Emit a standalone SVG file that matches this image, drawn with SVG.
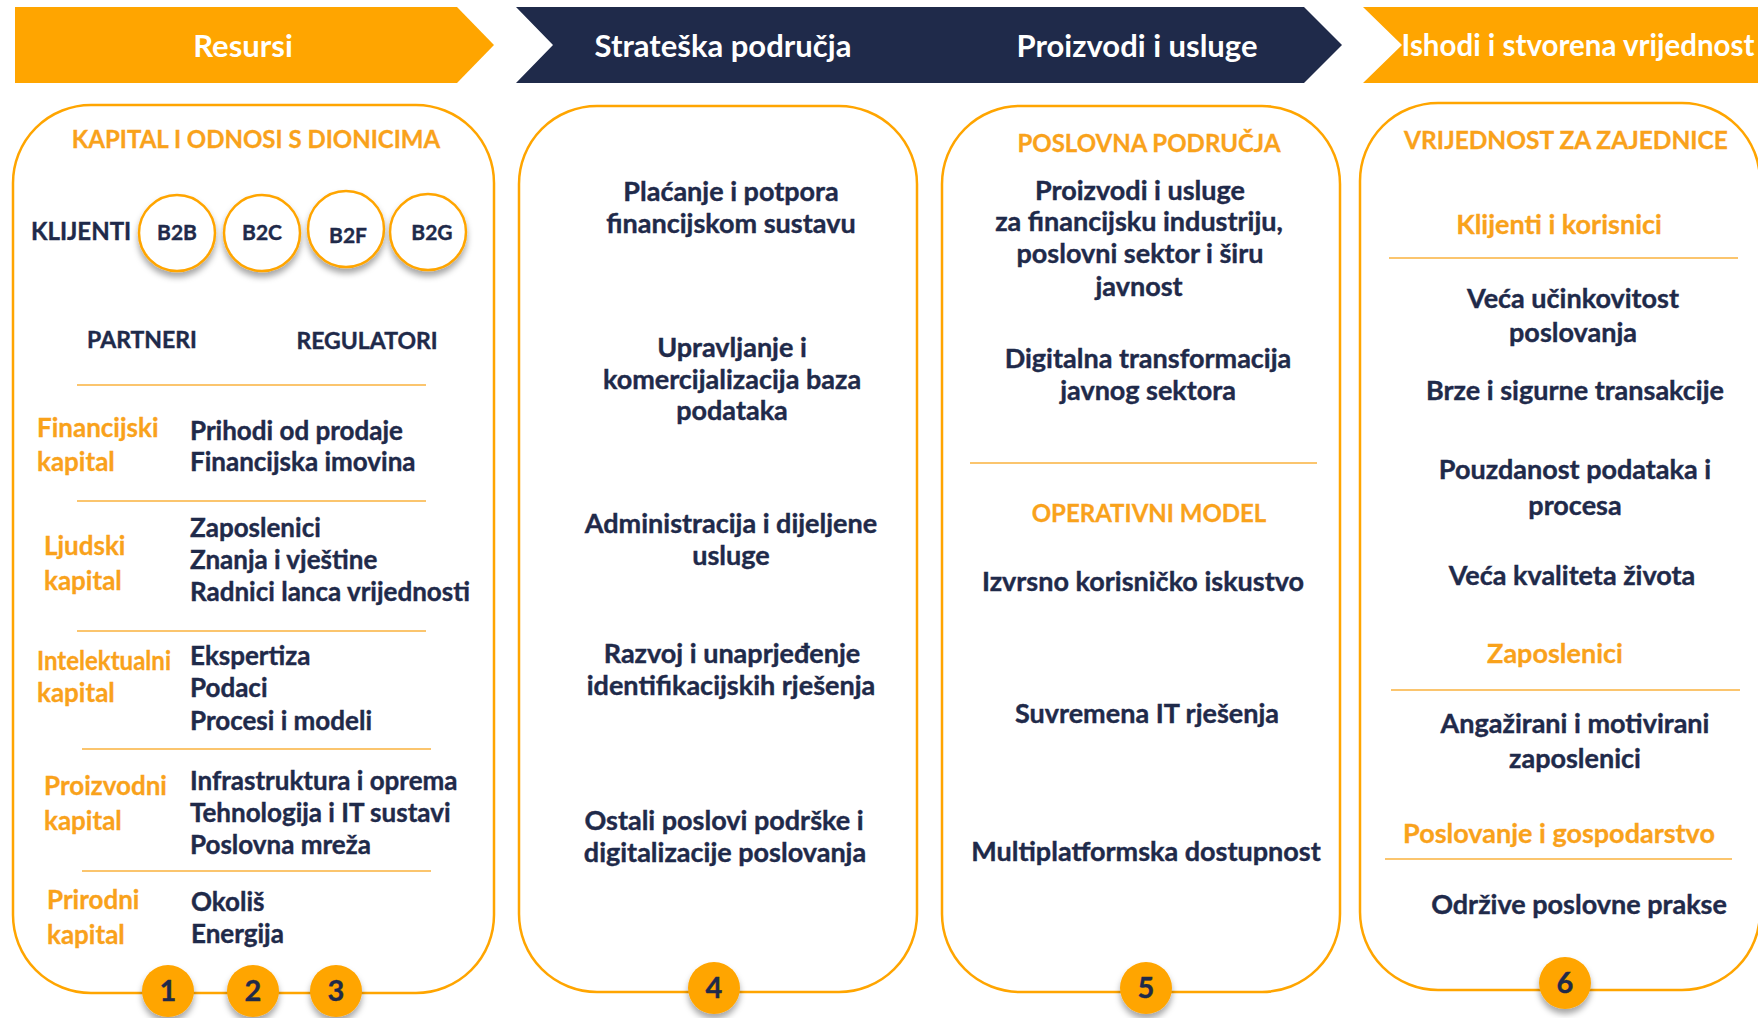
<svg xmlns="http://www.w3.org/2000/svg" width="1758" height="1018" viewBox="0 0 1758 1018">
<defs>
<style>
text{font-family:Lato,"Liberation Sans",sans-serif;font-weight:700}
.hd{fill:#fff;font-size:31px;text-anchor:middle}
.box{fill:#fff;stroke:#FFA500;stroke-width:2.5}
.sep{stroke:#FBC56E;stroke-width:2;fill:none}
.nv{fill:#1F2A4A;font-size:26px;stroke:#1F2A4A;stroke-width:0.4}
.nvc{fill:#1F2A4A;font-size:27px;text-anchor:middle;stroke:#1F2A4A;stroke-width:0.4}
.or{fill:#F9A21B;font-size:26px;stroke:#F9A21B;stroke-width:0.3}
.orh{fill:#F9A21B;font-size:24px;text-anchor:middle;stroke:#F9A21B;stroke-width:0.3}
.ors{fill:#F9A21B;font-size:27px;text-anchor:middle;stroke:#F9A21B;stroke-width:0.3}
.cap{fill:#1F2A4A;font-size:23px;text-anchor:middle;stroke:#1F2A4A;stroke-width:0.4}
.bc{fill:#fff;stroke:#FFA500;stroke-width:2.5}
.bt{fill:#1F2A4A;font-size:21px;text-anchor:middle;stroke:#1F2A4A;stroke-width:0.4}
.nc{fill:#FFA500}
.nt{fill:#1F2A4A;font-size:29px;text-anchor:middle;stroke:#1F2A4A;stroke-width:0.4}
</style>
<filter id="sh" x="-40%" y="-40%" width="180%" height="190%">
<feDropShadow dx="0" dy="5" stdDeviation="3" flood-color="#000" flood-opacity="0.35"/>
</filter>
</defs>
<rect width="1758" height="1018" fill="#fff"/>

<g id="headers">
<g id="h-resursi">
<polygon points="15,7 457,7 494,45 457,83 15,83" fill="#FFA500"/>
<text class="hd" x="243" y="57">Resursi</text>
</g>
<g id="h-strateska">
<polygon points="516,7 1304,7 1342,45 1304,83 516,83 553,45" fill="#1F2A4A"/>
<text class="hd" x="723" y="57">Strateška područja</text>
<text class="hd" x="1137" y="57">Proizvodi i usluge</text>
</g>
<g id="h-ishodi">
<polygon points="1363,7 1758,7 1758,83 1363,83 1402,45" fill="#FFA500"/>
<text class="hd" x="1578" y="56" style="font-size:29.5px">Ishodi i stvorena vrijednost</text>
</g>
</g>

<g id="box-resursi">
<rect class="box" x="13" y="105" width="481" height="888" rx="78" ry="78"/>
<text class="orh" x="256" y="148">KAPITAL I ODNOSI S DIONICIMA</text>
<text class="nv" x="31" y="240" style="font-size:24px">KLIJENTI</text>
<g id="b2b"><circle class="bc" cx="177" cy="233" r="38" filter="url(#sh)"/><text class="bt" x="177" y="240">B2B</text></g>
<g id="b2c"><circle class="bc" cx="262" cy="233" r="38" filter="url(#sh)"/><text class="bt" x="262" y="240">B2C</text></g>
<g id="b2f"><circle class="bc" cx="346" cy="229" r="38" filter="url(#sh)"/><text class="bt" x="348" y="243">B2F</text></g>
<g id="b2g"><circle class="bc" cx="428" cy="232" r="38" filter="url(#sh)"/><text class="bt" x="432" y="240">B2G</text></g>
<text class="cap" x="142" y="348">PARTNERI</text>
<text class="cap" x="367" y="349">REGULATORI</text>
<line class="sep" x1="77" y1="385" x2="426" y2="385"/>
<text class="or" x="37" y="437">Financijski</text>
<text class="or" x="37" y="471">kapital</text>
<text class="nv" x="190" y="440">Prihodi od prodaje</text>
<text class="nv" x="190" y="471">Financijska imovina</text>
<line class="sep" x1="77" y1="501" x2="426" y2="501"/>
<text class="or" x="44" y="555">Ljudski</text>
<text class="or" x="44" y="590">kapital</text>
<text class="nv" x="190" y="537">Zaposlenici</text>
<text class="nv" x="190" y="569">Znanja i vještine</text>
<text class="nv" x="190" y="601">Radnici lanca vrijednosti</text>
<line class="sep" x1="77" y1="631" x2="426" y2="631"/>
<text class="or" x="37" y="670" textLength="134" lengthAdjust="spacingAndGlyphs">Intelektualni</text>
<text class="or" x="37" y="702">kapital</text>
<text class="nv" x="190" y="665">Ekspertiza</text>
<text class="nv" x="190" y="697">Podaci</text>
<text class="nv" x="190" y="730">Procesi i modeli</text>
<line class="sep" x1="82" y1="749" x2="431" y2="749"/>
<text class="or" x="44" y="795">Proizvodni</text>
<text class="or" x="44" y="830">kapital</text>
<text class="nv" x="190" y="790">Infrastruktura i oprema</text>
<text class="nv" x="190" y="822">Tehnologija i IT sustavi</text>
<text class="nv" x="190" y="854">Poslovna mreža</text>
<line class="sep" x1="82" y1="871" x2="431" y2="871"/>
<text class="or" x="47" y="909">Prirodni</text>
<text class="or" x="47" y="944">kapital</text>
<text class="nv" x="191" y="911">Okoliš</text>
<text class="nv" x="191" y="943">Energija</text>
</g>

<g id="box-strateska">
<rect class="box" x="519" y="106" width="398" height="886" rx="78" ry="78"/>
<text class="nvc" x="731" y="201">Plaćanje i potpora</text>
<text class="nvc" x="731" y="233">financijskom sustavu</text>
<text class="nvc" x="732" y="357">Upravljanje i</text>
<text class="nvc" x="732" y="389">komercijalizacija baza</text>
<text class="nvc" x="732" y="420">podataka</text>
<text class="nvc" x="731" y="533">Administracija i dijeljene</text>
<text class="nvc" x="731" y="565">usluge</text>
<text class="nvc" x="732" y="663">Razvoj i unaprjeđenje</text>
<text class="nvc" x="731" y="695">identifikacijskih rješenja</text>
<text class="nvc" x="724" y="830">Ostali poslovi podrške i</text>
<text class="nvc" x="725" y="862">digitalizacije poslovanja</text>
</g>

<g id="box-proizvodi">
<rect class="box" x="942" y="106" width="398" height="886" rx="78" ry="78"/>
<text class="orh" x="1149" y="152">POSLOVNA PODRUČJA</text>
<text class="nvc" x="1140" y="200">Proizvodi i usluge</text>
<text class="nvc" x="1139" y="231">za financijsku industriju,</text>
<text class="nvc" x="1140" y="263">poslovni sektor i širu</text>
<text class="nvc" x="1139" y="296">javnost</text>
<text class="nvc" x="1148" y="368">Digitalna transformacija</text>
<text class="nvc" x="1148" y="400">javnog sektora</text>
<line class="sep" x1="970" y1="463" x2="1317" y2="463"/>
<text class="orh" x="1149" y="522">OPERATIVNI MODEL</text>
<text class="nvc" x="1143" y="591">Izvrsno korisničko iskustvo</text>
<text class="nvc" x="1147" y="723">Suvremena IT rješenja</text>
<text class="nvc" x="1146" y="861">Multiplatformska dostupnost</text>
</g>

<g id="box-ishodi">
<rect class="box" x="1360" y="103" width="400" height="887" rx="78" ry="78"/>
<text class="orh" x="1566" y="149" style="font-size:24.5px">VRIJEDNOST ZA ZAJEDNICE</text>
<text class="ors" x="1559" y="234">Klijenti i korisnici</text>
<line class="sep" x1="1389" y1="258" x2="1738" y2="258"/>
<text class="nvc" x="1573" y="308">Veća učinkovitost</text>
<text class="nvc" x="1573" y="342">poslovanja</text>
<text class="nvc" x="1575" y="400">Brze i sigurne transakcije</text>
<text class="nvc" x="1575" y="479">Pouzdanost podataka i</text>
<text class="nvc" x="1575" y="515">procesa</text>
<text class="nvc" x="1572" y="585">Veća kvaliteta života</text>
<text class="ors" x="1555" y="663">Zaposlenici</text>
<line class="sep" x1="1391" y1="690" x2="1740" y2="690"/>
<text class="nvc" x="1575" y="733">Angažirani i motivirani</text>
<text class="nvc" x="1575" y="768">zaposlenici</text>
<text class="ors" x="1559" y="843">Poslovanje i gospodarstvo</text>
<line class="sep" x1="1385" y1="859" x2="1732" y2="859"/>
<text class="nvc" x="1579" y="914">Održive poslovne prakse</text>
</g>

<g id="numbers">
<g id="n1"><circle class="nc" cx="168" cy="991" r="26" filter="url(#sh)"/><text class="nt" x="168" y="1001">1</text></g>
<g id="n2"><circle class="nc" cx="253" cy="991" r="26" filter="url(#sh)"/><text class="nt" x="253" y="1001">2</text></g>
<g id="n3"><circle class="nc" cx="336" cy="991" r="26" filter="url(#sh)"/><text class="nt" x="336" y="1001">3</text></g>
<g id="n4"><circle class="nc" cx="714" cy="988" r="26" filter="url(#sh)"/><text class="nt" x="714" y="998">4</text></g>
<g id="n5"><circle class="nc" cx="1146" cy="988" r="26" filter="url(#sh)"/><text class="nt" x="1146" y="998">5</text></g>
<g id="n6"><circle class="nc" cx="1565" cy="983" r="26" filter="url(#sh)"/><text class="nt" x="1565" y="993">6</text></g>
</g>
<g id="connectors"></g>
</svg>
